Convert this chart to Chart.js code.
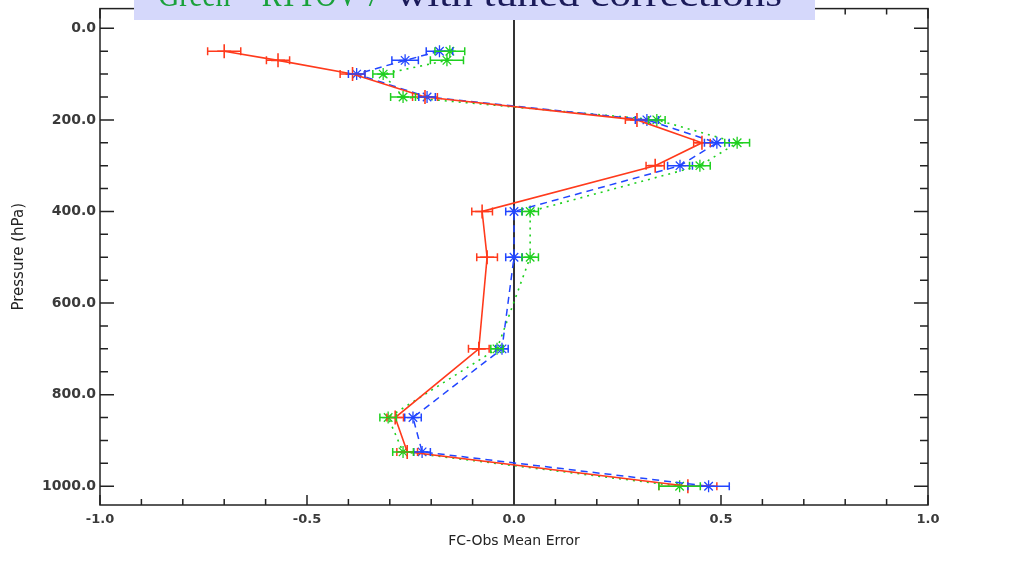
<!DOCTYPE html>
<html>
<head>
<meta charset="utf-8">
<script src="https://cdn.jsdelivr.net/npm/chart.js@4"></script>
<style>
  html, body { margin: 0; padding: 0; background: #fff; }
  #wrap { width: 1025px; height: 564px; position: relative; }
</style>
</head>
<body>
<div id="wrap"><canvas id="profileChart"></canvas></div>
<script>
// pressure levels (hPa)
const pressure = [50, 70, 100, 150, 200, 250, 300, 400, 500, 700, 850, 925, 1000];

// FC-Obs mean error per level
const redMean   = [-0.70, -0.57, -0.39, -0.215, 0.297, 0.454, 0.341, -0.077, -0.065, -0.085, -0.287, -0.258, 0.42];
const blueMean  = [-0.18, -0.263, -0.38, -0.21, 0.321, 0.49, 0.401, 0.0, 0.0, -0.029, -0.244, -0.222, 0.47];
const greenMean = [-0.155, -0.162, -0.316, -0.268, 0.345, 0.539, 0.449, 0.039, 0.039, -0.041, -0.304, -0.268, 0.40];

// half width of the error bars
const redErr   = [0.04, 0.028, 0.03, 0.03, 0.028, 0.02, 0.022, 0.025, 0.025, 0.025, 0.02, 0.025, 0.07];
const blueErr  = [0.032, 0.032, 0.02, 0.02, 0.028, 0.03, 0.03, 0.02, 0.02, 0.015, 0.02, 0.02, 0.05];
const greenErr = [0.036, 0.04, 0.025, 0.03, 0.02, 0.03, 0.025, 0.02, 0.02, 0.015, 0.02, 0.025, 0.05];

const xMajor = [-1.0, -0.5, 0.0, 0.5, 1.0];
const yMajor = [0, 200, 400, 600, 800, 1000];

const RED = "#ff3a1c";
const BLUE = "#2246ff";
const GREEN = "#1fd01f";

function pts(vals) {
    return vals.map((v, i) => ({ x: v, y: pressure[i] }));
}

// horizontal error bars with end caps
const errorBars = {
    id: "errorBars",
    afterDatasetsDraw(chart) {
        const ctx = chart.ctx;
        const xs = chart.scales.x, ys = chart.scales.y;
        chart.data.datasets.forEach((ds) => {
            const errs = ds.errors;
            ctx.save();
            ctx.strokeStyle = ds.borderColor;
            ctx.lineWidth = 1.5;
            ds.data.forEach((p, j) => {
                const y = ys.getPixelForValue(p.y);
                const x1 = xs.getPixelForValue(p.x - errs[j]);
                const x2 = xs.getPixelForValue(p.x + errs[j]);
                ctx.beginPath();
                ctx.moveTo(x1, y); ctx.lineTo(x2, y);
                ctx.moveTo(x1, y - 4); ctx.lineTo(x1, y + 4);
                ctx.moveTo(x2, y - 4); ctx.lineTo(x2, y + 4);
                ctx.stroke();
            });
            ctx.restore();
        });
    }
};

// fit a piece of text into a given horizontal span
function spanText(ctx, txt, x0, x1, y) {
    const w = ctx.measureText(txt).width;
    ctx.save();
    ctx.translate(x0, y);
    ctx.scale((x1 - x0) / w, 1);
    ctx.fillText(txt, 0, 0);
    ctx.restore();
}

// IDL style box with inward ticks, zero line and the cut-off title banner
const frame = {
    id: "frame",
    beforeDatasetsDraw(chart) {
        const ctx = chart.ctx;
        const a = chart.chartArea;
        const xs = chart.scales.x, ys = chart.scales.y;
        ctx.save();
        ctx.strokeStyle = "#222";
        ctx.lineWidth = 1.5;
        ctx.strokeRect(a.left, a.top, a.right - a.left, a.bottom - a.top);

        ctx.beginPath();
        for (let v = -10; v <= 10; v++) {
            const x = xs.getPixelForValue(v / 10);
            const len = (v % 5 === 0) ? 10 : 6;
            ctx.moveTo(x, a.bottom); ctx.lineTo(x, a.bottom - len);
            ctx.moveTo(x, a.top); ctx.lineTo(x, a.top + len);
        }
        for (let v = 0; v <= 1000; v += 50) {
            const y = ys.getPixelForValue(v);
            const len = (v % 200 === 0) ? 14 : 8;
            ctx.moveTo(a.left, y); ctx.lineTo(a.left + len, y);
            ctx.moveTo(a.right, y); ctx.lineTo(a.right - len, y);
        }
        ctx.stroke();

        // zero line
        ctx.lineWidth = 2;
        ctx.strokeStyle = "#333";
        const x0 = xs.getPixelForValue(0);
        ctx.beginPath();
        ctx.moveTo(x0, a.top); ctx.lineTo(x0, a.bottom);
        ctx.stroke();
        ctx.restore();
    },
    afterDraw(chart) {
        const ctx = chart.ctx;
        ctx.save();
        ctx.fillStyle = "#d5d8fb";
        ctx.fillRect(134, 0, 681, 20);
        ctx.font = "36px 'Liberation Serif'";
        ctx.textBaseline = "alphabetic";
        ctx.fillStyle = "#19a13a";
        spanText(ctx, "Green = RTTOV-7", 158, 380, 6);
        ctx.fillStyle = "#1b1b5a";
        spanText(ctx, "with tuned corrections", 396, 782, 6);
        ctx.restore();
    }
};

new Chart(document.getElementById("profileChart"), {
    type: "scatter",
    data: {
        datasets: [
            {
                label: "Red",
                data: pts(redMean),
                errors: redErr,
                showLine: true,
                borderColor: RED,
                backgroundColor: RED,
                borderWidth: 1.6,
                pointStyle: "cross",
                pointRadius: 7,
                pointBorderWidth: 1.6
            },
            {
                label: "Blue",
                data: pts(blueMean),
                errors: blueErr,
                showLine: true,
                borderColor: BLUE,
                backgroundColor: BLUE,
                borderWidth: 1.5,
                borderDash: [7, 5],
                pointStyle: "star",
                pointRadius: 6,
                pointBorderWidth: 1.3
            },
            {
                label: "Green",
                data: pts(greenMean),
                errors: greenErr,
                showLine: true,
                borderColor: GREEN,
                backgroundColor: GREEN,
                borderWidth: 1.6,
                borderDash: [2, 5],
                pointStyle: "star",
                pointRadius: 6,
                pointBorderWidth: 1.3
            }
        ]
    },
    options: {
        responsive: true,
        maintainAspectRatio: false,
        animation: false,
        layout: { padding: { top: 6, right: 97, left: 0, bottom: 14 } },
        plugins: {
            legend: { display: false },
            tooltip: { enabled: false }
        },
        scales: {
            x: {
                type: "linear",
                min: -1,
                max: 1,
                grid: { display: false, drawTicks: false },
                border: { display: false },
                afterBuildTicks: (s) => { s.ticks = xMajor.map(v => ({ value: v })); },
                afterFit: (s) => { s.height = 45; s.paddingLeft = 0; s.paddingRight = 0; },
                ticks: {
                    padding: 7,
                    color: "#3a3a3a",
                    font: { family: "DejaVu Sans", size: 13, weight: "bold" },
                    callback: (v) => Number(v).toFixed(1)
                },
                title: {
                    display: true,
                    text: "FC-Obs Mean Error",
                    color: "#222",
                    font: { family: "DejaVu Sans", size: 14 },
                    padding: { top: 0, bottom: 0 }
                }
            },
            y: {
                type: "linear",
                reverse: true,
                min: -43,
                max: 1041,
                grid: { display: false, drawTicks: false },
                border: { display: false },
                afterBuildTicks: (s) => { s.ticks = yMajor.map(v => ({ value: v })); },
                afterFit: (s) => { s.width = 100; s.paddingTop = 0; s.paddingBottom = 0; },
                ticks: {
                    padding: 4,
                    color: "#3a3a3a",
                    font: { family: "DejaVu Sans", size: 14, weight: "bold" },
                    callback: (v) => Number(v).toFixed(1)
                },
                title: {
                    display: true,
                    text: "Pressure (hPa)",
                    color: "#222",
                    font: { family: "DejaVu Sans", size: 15 },
                    padding: { bottom: 4, top: 10 }
                }
            }
        }
    },
    plugins: [frame, errorBars]
});
</script>
</body>
</html>
